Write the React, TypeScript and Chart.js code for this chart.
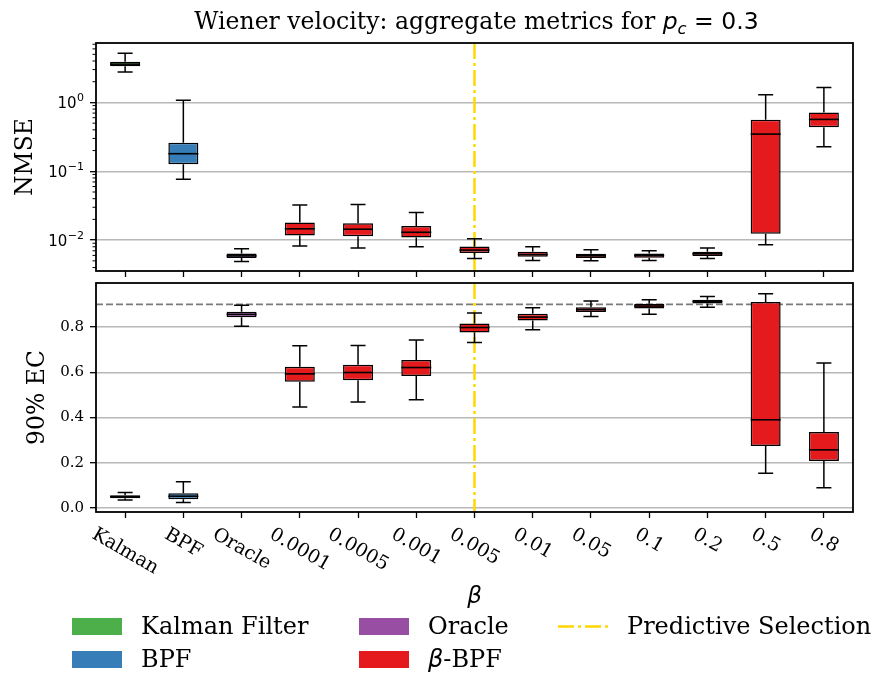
import React, { useEffect, useRef } from 'react';
import { Chart, registerables } from 'chart.js';

Chart.register(...registerables);

// ---------------- data ----------------
const categories = ['Kalman', 'BPF', 'Oracle', '0.0001', '0.0005', '0.001', '0.005', '0.01', '0.05', '0.1', '0.2', '0.5', '0.8'];
const groupOf = ['kalman', 'bpf', 'oracle', 'beta', 'beta', 'beta', 'beta', 'beta', 'beta', 'beta', 'beta', 'beta', 'beta'];

// NMSE (top panel, log scale)
const nmseLow = [2.77, 0.0766, 0.0049, 0.0082, 0.00766, 0.008, 0.0054, 0.00506, 0.00501, 0.00506, 0.0054, 0.00855, 0.227];
const nmseQ1 = [3.36, 0.126, 0.00548, 0.01166, 0.0114, 0.0109, 0.00648, 0.00573, 0.00548, 0.00554, 0.00586, 0.01233, 0.435];
const nmseMed = [3.6, 0.18, 0.0059, 0.0146, 0.0144, 0.013, 0.00716, 0.00618, 0.00592, 0.00598, 0.00633, 0.347, 0.567];
const nmseQ3 = [3.9, 0.26, 0.0064, 0.018, 0.0176, 0.0161, 0.00807, 0.00677, 0.00633, 0.0064, 0.00677, 0.56, 0.716];
const nmseHigh = [5.2, 1.08, 0.00748, 0.0325, 0.0328, 0.0251, 0.01045, 0.008, 0.00724, 0.007, 0.00766, 1.29, 1.65];

// 90% EC (bottom panel)
const ecLow = [0.035, 0.024, 0.804, 0.446, 0.469, 0.479, 0.732, 0.788, 0.847, 0.856, 0.887, 0.154, 0.089];
const ecQ1 = [0.043, 0.039, 0.843, 0.558, 0.565, 0.583, 0.776, 0.829, 0.866, 0.882, 0.904, 0.274, 0.208];
const ecMed = [0.05, 0.052, 0.856, 0.593, 0.599, 0.621, 0.798, 0.844, 0.877, 0.893, 0.913, 0.39, 0.257];
const ecQ3 = [0.056, 0.065, 0.868, 0.624, 0.633, 0.654, 0.816, 0.859, 0.887, 0.903, 0.921, 0.911, 0.336];
const ecHigh = [0.068, 0.116, 0.896, 0.717, 0.718, 0.743, 0.862, 0.885, 0.915, 0.921, 0.935, 0.947, 0.641];

const nmseTicks = [0.01, 0.1, 1];
const nmseMin = 0.00356;
const nmseMax = 7.3;
const ecTicks = [0, 0.2, 0.4, 0.6, 0.8];
const ecMin = -0.0177;
const ecMax = 0.9947;
const targetCoverage = 0.9;
const selectedBeta = '0.005';

const groupColors: Record<string, string> = {
  kalman: '#4daf4a',
  bpf: '#377eb8',
  oracle: '#984ea3',
  beta: '#e41a1c',
};
const selectionColor = '#FFD700';

const legendItems = [
  { key: 'kalman', label: 'Kalman Filter', col: 0, row: 0 },
  { key: 'bpf', label: 'BPF', col: 0, row: 1 },
  { key: 'oracle', label: 'Oracle', col: 1, row: 0 },
  { key: 'beta', label: '-BPF', col: 1, row: 1 },
  { key: 'selection', label: 'Predictive Selection', col: 2, row: 0 },
];

// ---------------- layout ----------------
const SERIF = "'DejaVu Serif', serif";
const SANS = "'DejaVu Sans', sans-serif";
const W = 881;
const TOP_H = 280;
const BOT_TOP = 280;
const BOT_H = 393;
const AREA_LEFT = 96;
const AREA_RIGHT = 853;
const LEG_COLS = [72, 359, 558];
const LEG_ROWS = [626, 659];
const LABEL_FONT = 23.5;
const YTICK_FONT = 15;
const XTICK_FONT = 19;

function drawBoxes(chart: any, low: number[], q1: number[], med: number[], q3: number[], high: number[]) {
  const ctx = chart.ctx;
  const meta = chart.getDatasetMeta(0);
  const ys = chart.scales.y;
  ctx.save();
  ctx.strokeStyle = '#000';
  meta.data.forEach((el: any, i: number) => {
    const p = el.getProps(['x', 'width'], true);
    const x = p.x;
    const w = p.width;
    const yLo = ys.getPixelForValue(low[i]);
    const yQ1 = ys.getPixelForValue(q1[i]);
    const yMed = ys.getPixelForValue(med[i]);
    const yQ3 = ys.getPixelForValue(q3[i]);
    const yHi = ys.getPixelForValue(high[i]);
    ctx.lineWidth = 1.5;
    ctx.beginPath();
    ctx.moveTo(x, yQ3);
    ctx.lineTo(x, yHi);
    ctx.moveTo(x, yQ1);
    ctx.lineTo(x, yLo);
    ctx.moveTo(x - w / 4, yHi);
    ctx.lineTo(x + w / 4, yHi);
    ctx.moveTo(x - w / 4, yLo);
    ctx.lineTo(x + w / 4, yLo);
    ctx.stroke();
    ctx.beginPath();
    ctx.lineWidth = 1.6;
    ctx.moveTo(x - w / 2, yMed);
    ctx.lineTo(x + w / 2, yMed);
    ctx.stroke();
  });
  ctx.restore();
}

function drawSelection(chart: any) {
  const ctx = chart.ctx;
  const a = chart.chartArea;
  const x = chart.scales.x.getPixelForValue(categories.indexOf(selectedBeta));
  ctx.save();
  ctx.strokeStyle = selectionColor;
  ctx.lineWidth = 2.5;
  ctx.setLineDash([16, 4, 3, 4]);
  ctx.beginPath();
  ctx.moveTo(x, a.top);
  ctx.lineTo(x, a.bottom);
  ctx.stroke();
  ctx.restore();
}

function drawFrame(chart: any) {
  const ctx = chart.ctx;
  const a = chart.chartArea;
  ctx.save();
  ctx.strokeStyle = '#000';
  ctx.lineWidth = 1.8;
  ctx.strokeRect(a.left, a.top, a.right - a.left, a.bottom - a.top);
  ctx.restore();
}

function drawYTitle(chart: any, text: string, x: number) {
  const ctx = chart.ctx;
  const a = chart.chartArea;
  ctx.save();
  ctx.font = `${LABEL_FONT}px ${SERIF}`;
  ctx.fillStyle = '#000';
  ctx.textAlign = 'center';
  ctx.textBaseline = 'middle';
  ctx.translate(x, (a.top + a.bottom) / 2);
  ctx.rotate(-Math.PI / 2);
  ctx.fillText(text, 0, 0);
  ctx.restore();
}

const topPlugin = {
  id: 'topDecor',
  beforeDatasetsDraw(chart: any) {
    drawSelection(chart);
  },
  afterDatasetsDraw(chart: any) {
    drawBoxes(chart, nmseLow, nmseQ1, nmseMed, nmseQ3, nmseHigh);
  },
  afterDraw(chart: any) {
    const ctx = chart.ctx;
    const a = chart.chartArea;
    const ys = chart.scales.y;
    // minor log ticks
    ctx.save();
    ctx.strokeStyle = '#000';
    ctx.lineWidth = 1;
    for (let e = -3; e <= 1; e++) {
      for (let k = 2; k <= 9; k++) {
        const v = k * Math.pow(10, e);
        if (v < nmseMin || v > nmseMax) continue;
        const y = ys.getPixelForValue(v);
        ctx.beginPath();
        ctx.moveTo(a.left - 3.5, y);
        ctx.lineTo(a.left, y);
        ctx.stroke();
      }
    }
    // log tick labels: 10 with raised exponent
    ctx.fillStyle = '#000';
    ctx.textBaseline = 'alphabetic';
    ys.ticks.forEach((t: any) => {
      const y = ys.getPixelForValue(t.value);
      const exp = String(Math.round(Math.log10(t.value))).replace('-', '\u2212');
      ctx.font = `11px ${SANS}`;
      const ew = ctx.measureText(exp).width;
      const right = a.left - 6 - 6;
      ctx.textAlign = 'right';
      ctx.fillText(exp, right, y - 1.5);
      ctx.font = `${YTICK_FONT}px ${SANS}`;
      ctx.fillText('10', right - ew - 0.5, y + 5.5);
    });
    ctx.restore();
    drawFrame(chart);
    drawYTitle(chart, 'NMSE', 26);
  },
};

const bottomPlugin = {
  id: 'bottomDecor',
  beforeDatasetsDraw(chart: any) {
    const ctx = chart.ctx;
    const a = chart.chartArea;
    const y = chart.scales.y.getPixelForValue(targetCoverage);
    ctx.save();
    ctx.strokeStyle = '#7a7a7a';
    ctx.lineWidth = 1.8;
    ctx.setLineDash([7, 3]);
    ctx.beginPath();
    ctx.moveTo(a.left, y);
    ctx.lineTo(a.right, y);
    ctx.stroke();
    ctx.restore();
    drawSelection(chart);
  },
  afterDatasetsDraw(chart: any) {
    drawBoxes(chart, ecLow, ecQ1, ecMed, ecQ3, ecHigh);
  },
  afterDraw(chart: any) {
    drawFrame(chart);
    drawYTitle(chart, '90% EC', 38);
    const ctx = chart.ctx;
    const a = chart.chartArea;
    const xs = chart.scales.x;
    const f = XTICK_FONT;
    const th = (30 * Math.PI) / 180;
    ctx.save();
    ctx.font = `${f}px ${SERIF}`;
    ctx.fillStyle = '#000';
    ctx.textAlign = 'center';
    ctx.textBaseline = 'middle';
    categories.forEach((lab, i) => {
      const x = xs.getPixelForTick(i);
      const w = ctx.measureText(lab).width;
      const h = f * 1.0;
      const bh = w * Math.sin(th) + h * Math.cos(th);
      const cy = a.bottom + 6 + 7 + bh / 2;
      ctx.save();
      ctx.translate(x, cy);
      ctx.rotate(th);
      ctx.fillText(lab, 0, 0);
      ctx.restore();
    });
    ctx.restore();
  },
};

function baseX(height: number) {
  return {
    type: 'category',
    offset: true,
    grid: { offset: false, drawOnChartArea: false, drawTicks: true, tickLength: 6, tickColor: '#000', tickWidth: 1.3 },
    border: { display: false },
    ticks: { display: false },
    afterFit: (s: any) => {
      s.height = height;
      s.paddingLeft = 0;
      s.paddingRight = 0;
    },
  };
}

const yTickFont = { family: SERIF, size: YTICK_FONT };

export default function App() {
  const topRef = useRef<HTMLCanvasElement>(null);
  const botRef = useRef<HTMLCanvasElement>(null);

  useEffect(() => {
    const colors = groupOf.map((g) => groupColors[g]);
    const c1 = new Chart(topRef.current as HTMLCanvasElement, {
      type: 'bar',
      data: {
        labels: categories,
        datasets: [
          {
            data: categories.map((_, i) => [nmseQ1[i], nmseQ3[i]]) as any,
            backgroundColor: colors,
            borderColor: '#000',
            borderWidth: 1.5,
            borderSkipped: false,
            barPercentage: 0.515,
            categoryPercentage: 1,
          },
        ],
      },
      options: {
        responsive: false,
        animation: false,
        events: [],
        layout: { padding: { top: 43, right: W - AREA_RIGHT, left: 0, bottom: 0 } },
        plugins: { legend: { display: false }, tooltip: { enabled: false }, title: { display: false } },
        scales: {
          x: baseX(TOP_H - 271) as any,
          y: {
            type: 'logarithmic',
            min: nmseMin,
            max: nmseMax,
            afterBuildTicks: (s: any) => {
              s.ticks = nmseTicks.map((v) => ({ value: v }));
            },
            ticks: { display: false },
            grid: { color: '#b8b8b8', lineWidth: 1.4, tickColor: '#000', tickLength: 6, tickWidth: 1.3 },
            border: { display: false },
            afterFit: (s: any) => {
              s.width = AREA_LEFT;
              s.paddingTop = 0;
              s.paddingBottom = 0;
            },
          } as any,
        },
      },
      plugins: [topPlugin],
    });

    const c2 = new Chart(botRef.current as HTMLCanvasElement, {
      type: 'bar',
      data: {
        labels: categories,
        datasets: [
          {
            data: categories.map((_, i) => [ecQ1[i], ecQ3[i]]) as any,
            backgroundColor: colors,
            borderColor: '#000',
            borderWidth: 1.5,
            borderSkipped: false,
            barPercentage: 0.515,
            categoryPercentage: 1,
          },
        ],
      },
      options: {
        responsive: false,
        animation: false,
        events: [],
        layout: { padding: { top: 3, right: W - AREA_RIGHT, left: 0, bottom: 0 } },
        plugins: { legend: { display: false }, tooltip: { enabled: false }, title: { display: false } },
        scales: {
          x: baseX(BOT_H - (512 - BOT_TOP)) as any,
          y: {
            type: 'linear',
            min: ecMin,
            max: ecMax,
            afterBuildTicks: (s: any) => {
              s.ticks = ecTicks.map((v) => ({ value: v }));
            },
            ticks: { callback: (v: any) => Number(v).toFixed(1), font: yTickFont, color: '#000', padding: 6, autoSkip: false },
            grid: { color: '#b8b8b8', lineWidth: 1.4, tickColor: '#000', tickLength: 6, tickWidth: 1.3 },
            border: { display: false },
            afterFit: (s: any) => {
              s.width = AREA_LEFT;
              s.paddingTop = 0;
              s.paddingBottom = 0;
            },
          } as any,
        },
      },
      plugins: [bottomPlugin],
    });

    return () => {
      c1.destroy();
      c2.destroy();
    };
  }, []);

  const centerX = (AREA_LEFT + AREA_RIGHT) / 2;

  return (
    <div style={{ position: 'absolute', left: 0, top: 0, width: W, height: 673, background: '#fff', overflow: 'hidden' }}>
      <canvas ref={topRef} width={W} height={TOP_H} style={{ position: 'absolute', left: 0, top: 0 }} />
      <canvas ref={botRef} width={W} height={BOT_H} style={{ position: 'absolute', left: 0, top: BOT_TOP }} />
      <div
        style={{
          position: 'absolute',
          left: centerX + 2,
          top: 10,
          transform: 'translateX(-50%)',
          whiteSpace: 'nowrap',
          fontFamily: SERIF,
          fontSize: LABEL_FONT,
          lineHeight: 1,
          color: '#000',
        }}
      >
        Wiener velocity: aggregate metrics for{' '}
        <span style={{ fontFamily: SANS, fontStyle: 'italic' }}>p</span>
        <span style={{ fontFamily: SANS, fontStyle: 'italic', fontSize: '0.7em', position: 'relative', top: '0.3em' }}>c</span>
        <span style={{ fontFamily: SANS }}> = 0.3</span>
      </div>
      <div
        style={{
          position: 'absolute',
          left: centerX,
          top: 584,
          transform: 'translateX(-50%)',
          fontFamily: SANS,
          fontStyle: 'italic',
          fontSize: 23,
          lineHeight: 1,
          color: '#000',
        }}
      >
        β
      </div>
      {legendItems.map((it) => (
        <div
          key={it.key}
          style={{
            position: 'absolute',
            left: LEG_COLS[it.col],
            top: LEG_ROWS[it.row] - 14,
            height: 28,
            display: 'flex',
            alignItems: 'center',
            whiteSpace: 'nowrap',
            fontFamily: SERIF,
            fontSize: 24,
            color: '#000',
          }}
        >
          {it.key === 'selection' ? (
            <svg width={50} height={17} style={{ display: 'block' }}>
              <line x1={0} y1={8.5} x2={50} y2={8.5} stroke={selectionColor} strokeWidth={2.5} strokeDasharray="16 4 3 4" />
            </svg>
          ) : (
            <div style={{ width: 50, height: 17, background: groupColors[it.key] }} />
          )}
          <span style={{ marginLeft: 19 }}>
            {it.key === 'beta' ? <span style={{ fontFamily: SANS, fontStyle: 'italic' }}>β</span> : null}
            {it.label}
          </span>
        </div>
      ))}
    </div>
  );
}
